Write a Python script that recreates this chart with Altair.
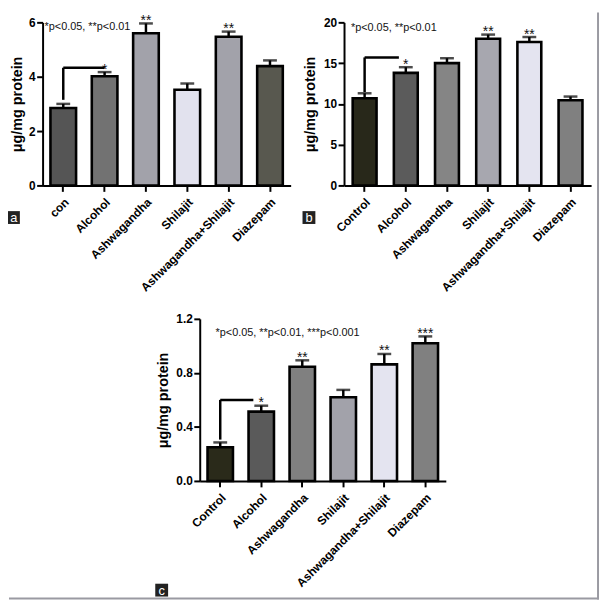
import altair as alt
import pandas as pd

cats_a = ["con", "Alcohol", "Ashwagandha", "Shilajit", "Ashwagandha+Shilajit", "Diazepam"]
vals_a = [2.85, 4.02, 5.60, 3.52, 5.47, 4.39]
errs_a = [3.00, 4.17, 5.96, 3.75, 5.66, 4.60]
stars_a = ["", "*", "**", "", "**", ""]
colors_a = ["#555555", "#727272", "#a2a2aa", "#e2e2ee", "#a2a2aa", "#58584f"]

cats_bc = ["Control", "Alcohol", "Ashwagandha", "Shilajit", "Ashwagandha+Shilajit", "Diazepam"]
vals_b = [10.7, 13.8, 15.0, 18.0, 17.6, 10.45]
errs_b = [11.3, 14.5, 15.6, 18.5, 18.2, 10.9]
stars_b = ["", "*", "", "**", "**", ""]
colors_b = ["#28281a", "#5b5b5b", "#858585", "#a7a7af", "#e4e4f0", "#808080"]

vals_c = [0.25, 0.513, 0.845, 0.62, 0.863, 1.02]
errs_c = [0.285, 0.557, 0.893, 0.674, 0.94, 1.07]
stars_c = ["", "*", "**", "", "**", "***"]
colors_c = ["#2a2a1a", "#5a5a5a", "#808080", "#a2a2aa", "#e4e4f0", "#808080"]

FONT = "Liberation Sans"


def panel(cats, vals, errs, stars, colors, ymax, ticks, fmt, width, height,
          pad_inner, note, note_x, note_y, br_bottom, br_level, br_off, title_pad,
          label, box, extra=None):
    df = pd.DataFrame({"cat": cats, "val": vals, "err": errs,
                       "star": stars, "color": colors})
    xs = alt.Scale(domain=cats, paddingInner=pad_inner, paddingOuter=pad_inner / 2)
    ys = alt.Scale(domain=[0, ymax], nice=False, zero=True)
    xaxis = alt.Axis(title=None, labelAngle=-45, labelPadding=5, labelFontSize=12)
    yaxis = alt.Axis(title="μg/mg protein", values=ticks, format=fmt,
                     titlePadding=title_pad, labelPadding=1.5)

    def X(f):
        return alt.X(f, scale=xs, axis=xaxis, title=None)

    def Y(f):
        return alt.Y(f, scale=ys, axis=yaxis, title="μg/mg protein")

    base = alt.Chart(df)
    err_rule = base.mark_rule(color="black", strokeWidth=2.5).encode(
        x=X("cat:N"), y=Y("val:Q"), y2="err:Q")
    bars = base.mark_bar(stroke="black", strokeWidth=2.6).encode(
        x=X("cat:N"), y=Y("val:Q"), fill=alt.Fill("color:N", scale=None))
    cap = base.mark_tick(color="black", size=14, thickness=2.5).encode(
        x=X("cat:N"), y=Y("err:Q"))
    star_txt = base.mark_text(font=FONT, fontSize=14, baseline="alphabetic",
                              dy=1.5, color="#111111").encode(
        x=X("cat:N"), y=Y("err:Q"), text="star:N")

    bdf = pd.DataFrame({"c1": [cats[0]], "c2": [cats[1]],
                        "lo": [br_bottom], "hi": [br_level]})
    bb = alt.Chart(bdf)
    br_v = bb.mark_rule(color="black", strokeWidth=2.5).encode(
        x=X("c1:N"), y=Y("lo:Q"), y2="hi:Q")
    br_h = bb.mark_rule(color="black", strokeWidth=2.5, x2Offset=br_off).encode(
        x=X("c1:N"), x2="c2:N", y=Y("hi:Q"))

    ndf = pd.DataFrame({"t": [note]})
    note_txt = alt.Chart(ndf).mark_text(font=FONT, fontSize=11, align="left",
                                        baseline="middle", color="#111111").encode(
        x=alt.value(note_x), y=alt.value(note_y), text="t:N")

    ldf = pd.DataFrame({"t": [label]})
    lbox = alt.Chart(ldf).mark_rect(color="#222222").encode(
        x=alt.value(box[0]), x2=alt.value(box[1]),
        y=alt.value(box[2]), y2=alt.value(box[3]))
    ltxt = alt.Chart(ldf).mark_text(font=FONT, fontSize=13, color="white",
                                    align="center", baseline="middle").encode(
        x=alt.value((box[0] + box[1]) / 2), y=alt.value((box[2] + box[3]) / 2 + 1),
        text="t:N")

    layers = [err_rule, bars, cap, star_txt, br_v, br_h, note_txt, lbox, ltxt]
    if extra is not None:
        layers.extend(extra)
    return alt.layer(*layers).properties(width=width, height=height)


one = pd.DataFrame({"v": [0]})
anchor = alt.Chart(one).mark_rect(fill="transparent").encode(
    x=alt.value(-35), x2=alt.value(-34), y=alt.value(-11), y2=alt.value(-10))
frame_r = alt.Chart(one).mark_rule(color="#9a9aa2", strokeWidth=2).encode(
    x=alt.value(562), y=alt.value(-10), y2=alt.value(584))
frame_b = alt.Chart(one).mark_rule(color="#9a9aa2", strokeWidth=2).encode(
    x=alt.value(-34), x2=alt.value(563), y=alt.value(583))

pa = panel(cats_a, vals_a, errs_a, stars_a, colors_a, 6, [0, 2, 4, 6], "d",
           251, 165, 0.38, "*p<0.05, **p<0.01", 2, 5, 3.15, 4.33, 0, 4, "a",
           (-35, -23, 191, 204), extra=[anchor, frame_r, frame_b])
pb = panel(cats_bc, vals_b, errs_b, stars_b, colors_b, 20, [0, 5, 10, 15, 20], "d",
           250, 165, 0.42, "*p<0.05, **p<0.01", 7, 6, 11.45, 15.7, -7, 6, "b",
           (-42, -29, 191, 204))
pc = panel(cats_bc, vals_c, errs_c, stars_c, colors_c, 1.2, [0, 0.4, 0.8, 1.2], ".1f",
           249, 164, 0.38, "*p<0.05, **p<0.01, ***p<0.001", 16, 14, 0.306, 0.6, -8, 5, "c",
           (-45, -32, 268, 281))

spacer = alt.Chart(one).mark_point(opacity=0).encode(
    x=alt.value(0), y=alt.value(0)).properties(width=1, height=1)

top = alt.hconcat(pa, pb, spacing=54, bounds="flush")
bottom = alt.hconcat(spacer, pc, spacing=158, bounds="flush")
chart = alt.vconcat(top, bottom, spacing=300, bounds="flush").properties(
    padding=0, background="white"
).configure_view(stroke=None).configure_axis(
    domainColor="black", domainWidth=2, tickColor="black", tickWidth=2, tickSize=6,
    labelFont=FONT, labelFontWeight="bold", labelFontSize=12, labelColor="black",
    titleFont=FONT, titleFontWeight="bold", titleFontSize=14.5, titleColor="black",
    grid=False
)

chart.save("out.html", embed_options={"renderer": "svg", "actions": False})
